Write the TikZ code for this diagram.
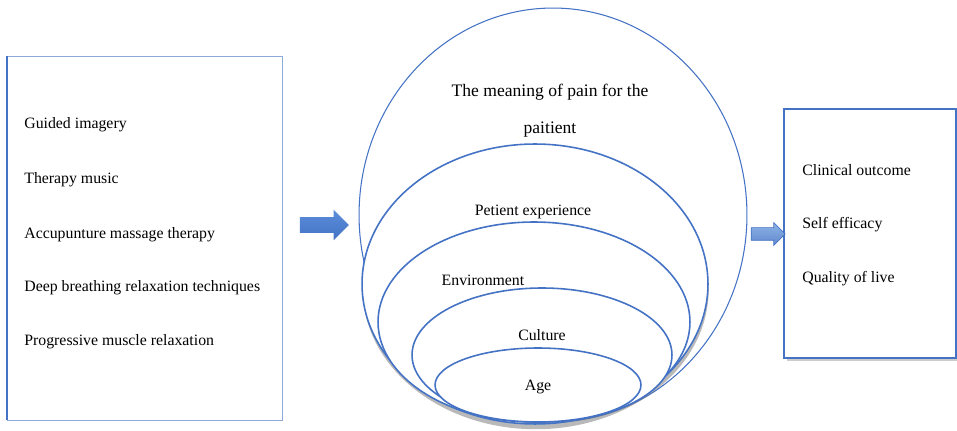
\documentclass[tikz,border=0pt]{standalone}
\usepackage{fontspec}
\setmainfont{Liberation Serif}
\usetikzlibrary{shapes.geometric, shapes.arrows, shadows}

\definecolor{ringblue}{HTML}{4472C4}
\definecolor{boxblue}{HTML}{8EAADB}
\definecolor{arrowtop}{HTML}{5B8EDB}
\definecolor{arrowlight}{HTML}{8DB4E6}

\begin{document}
\begin{tikzpicture}[x=0.02cm, y=-0.02cm,
  ring/.style={ellipse, draw=ringblue, line width=0.9pt, fill=white, inner sep=0pt},
  txt/.style={font=\fontsize{9}{11}\selectfont, inner sep=0pt},
  item/.style={txt, anchor=west},
  panel/.style={draw, fill=white, inner sep=0pt},
  blockarrow/.style={single arrow, draw=none, inner xsep=0pt,
                     shape border rotate=0}]

  \useasboundingbox (0,0) rectangle (957,431);

  % Intervention box (left)
  \node[panel, draw=boxblue, minimum width=5.5cm, minimum height=7.28cm] (methods) at (144.5,238) {};
  \draw[ringblue, line width=1.2pt] (methods.north west) -- (methods.south west);
  \node[item] (guided) at (24,125) {Guided imagery};
  \node[item] (music) at (24,180) {Therapy music};
  \node[item] (massage) at (24,235) {Accupunture massage therapy};
  \node[item] (breathing) at (24,288) {Deep breathing relaxation techniques};
  \node[item] (muscle) at (24,342) {Progressive muscle relaxation};

  % Nested rings, outer to inner
  \node[ring, line width=0.6pt, minimum width=7.76cm, minimum height=8.28cm] (meaning) at (553,215) {};
  \node[ring, minimum width=6.92cm, minimum height=5.6cm,
        drop shadow={opacity=0.55, shadow xshift=0.4pt, shadow yshift=-3pt}] (experience) at (535,284) {};
  \node[ring, minimum width=6.24cm, minimum height=4.0cm] (environment) at (534,322) {};
  \node[ring, minimum width=5.2cm, minimum height=2.68cm] (culture) at (542,355) {};
  \node[ring, minimum width=4.12cm, minimum height=1.48cm] (age) at (538,385) {};

  % Ring labels
  \node[txt, font=\fontsize{10}{21}\selectfont, align=center] (meaninglbl) at (550,111) {The meaning of pain for the\\paitient};
  \node[txt] (experiencelbl) at (533,212) {Petient experience};
  \node[txt] (environmentlbl) at (483,280) {Environment};
  \node[txt] (culturelbl) at (542,335) {Culture};
  \node[txt] (agelbl) at (538,387) {Age};

  % Outcome box (right)
  \node[panel, draw=ringblue, line width=0.8pt, minimum width=3.44cm, minimum height=4.98cm,
        drop shadow={opacity=0.4, shadow xshift=1.5pt, shadow yshift=-2pt}] (outcomes) at (870,233.5) {};
  \node[item] (clinical) at (802,170) {Clinical outcome};
  \node[item] (efficacy) at (802,225) {Self efficacy};
  \node[item] (quality) at (802,279) {Quality of live};

  % Block arrows between the parts
  \node[blockarrow, top color=arrowtop, bottom color=ringblue, inner ysep=0.15cm,
        minimum height=0.98cm, single arrow head extend=0.15cm] (into) at (320.5,225) {};
  \node[blockarrow, top color=arrowlight, bottom color=ringblue!85, draw=ringblue, line width=0.4pt,
        inner ysep=0.12cm, minimum height=0.68cm, single arrow head extend=0.1cm] (outof) at (765,234) {};

\end{tikzpicture}
\end{document}
